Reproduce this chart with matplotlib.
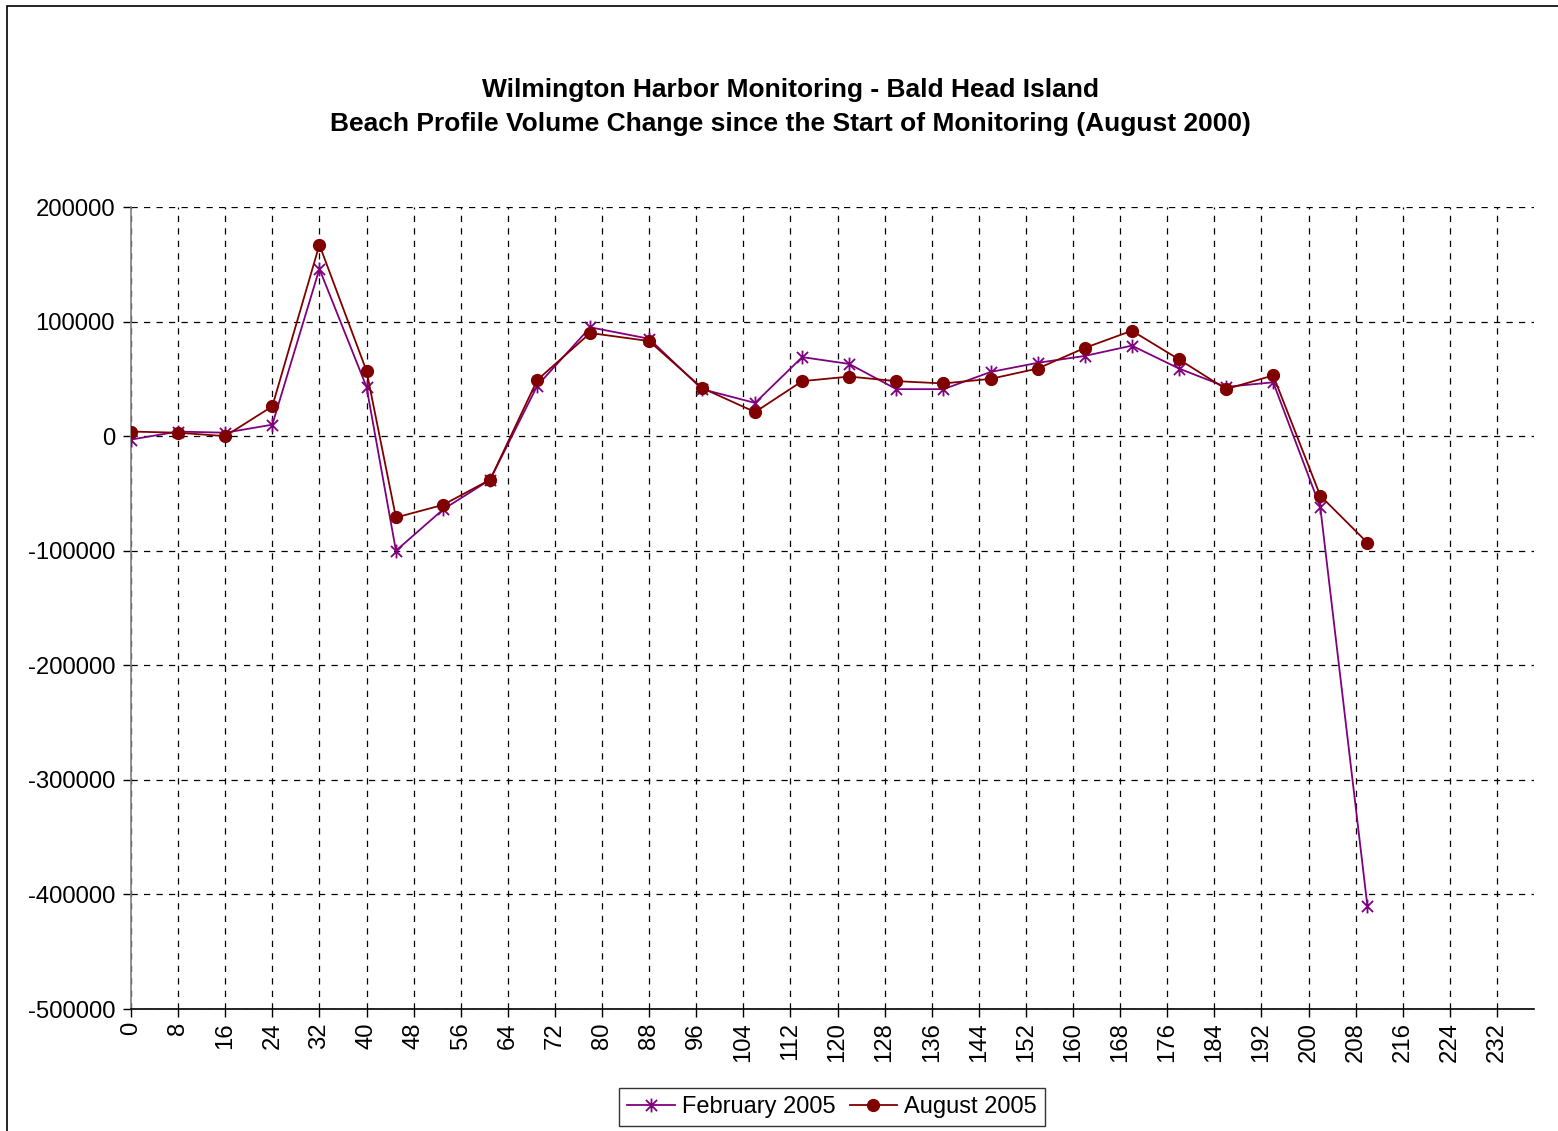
import numpy as np
import matplotlib
matplotlib.use('Agg')
import matplotlib.pyplot as plt
from matplotlib.path import Path
from matplotlib.patches import Rectangle

plt.rcParams['font.family'] = ['Liberation Sans', 'DejaVu Sans']
plt.rcParams['axes.unicode_minus'] = False

# station positions (profile numbers) and volume change
stations = [0, 8, 16, 24, 32, 40, 45, 53, 61, 69, 78, 88, 97, 106, 114,
            122, 130, 138, 146, 154, 162, 170, 178, 186, 194, 202, 210]
feb_2005 = [-3000, 4000, 3000, 10000, 146000, 43000, -100000, -64000, -38000,
            44000, 95000, 85000, 41000, 29000, 69000, 63000, 41000, 41000,
            56000, 64000, 70000, 79000, 59000, 43000, 47000, -62000, -410000]
aug_2005 = [4000, 3000, 0, 26000, 167000, 57000, -71000, -60000, -38000,
            49000, 90000, 83000, 42000, 21000, 48000, 52000, 48000, 46000,
            50000, 59000, 77000, 92000, 67000, 41000, 53000, -52000, -93000]

x_ticks = np.arange(0, 240, 8)
y_ticks = np.arange(-500000, 200001, 100000)

title = ('Wilmington Harbor Monitoring - Bald Head Island\n'
         'Beach Profile Volume Change since the Start of Monitoring (August 2000)')

# Excel style star marker: X with a vertical bar
star = Path([(-1, -1), (1, 1), (-1, 1), (1, -1), (0, -1.25), (0, 1.25)],
            [Path.MOVETO, Path.LINETO, Path.MOVETO, Path.LINETO,
             Path.MOVETO, Path.LINETO])

fig = plt.figure(figsize=(15.58, 11.31), dpi=100)
ax = fig.add_axes([131/1558, 1 - 1009/1131, (1534-131)/1558, (1009-207)/1131])

ax.plot(stations, feb_2005, color='#800080', lw=1.3, marker=star,
        markersize=10, markeredgewidth=1.3, markerfacecolor='none',
        label='February 2005', zorder=3)
ax.plot(stations, aug_2005, color='#800000', lw=1.3, marker='o',
        markersize=8.5, label='August 2005', zorder=4)

ax.set_xlim(0, 238.3)
ax.set_ylim(-500000, 200000)
ax.set_xticks(x_ticks)
ax.set_xticklabels([str(v) for v in x_ticks], rotation=90)
ax.set_yticks(y_ticks)
ax.set_yticklabels([str(v) for v in y_ticks])
ax.tick_params(axis='both', labelsize=17.2, direction='out', length=6,
               width=1, colors='black')
ax.tick_params(axis='y', pad=5.5)

ax.grid(True, color='black', linestyle=(0, (5, 5)), linewidth=0.9)
ax.set_axisbelow(True)
for side in ['top', 'right']:
    ax.spines[side].set_visible(False)
ax.spines['left'].set_color('#808080')
ax.spines['left'].set_linewidth(1.2)
ax.spines['bottom'].set_color('black')
ax.spines['bottom'].set_linewidth(1.2)

fig.text(790/1558, 1 - 107/1131, title, ha='center', va='center',
         fontsize=19, fontweight='bold', linespacing=1.5)

leg = fig.legend(loc='center', bbox_to_anchor=(832/1558, 1 - 1107/1131),
                 ncol=2, fontsize=17, frameon=True, fancybox=False,
                 handlelength=2.0, handletextpad=0.3, columnspacing=0.6,
                 borderpad=0.35)
leg.get_frame().set_edgecolor('black')
leg.get_frame().set_linewidth(1.0)

# outer chart border (clipped at right and bottom like the source)
fig.patches.append(Rectangle((7/1558, -0.05), 1.1, 1 - 6/1131 + 0.05,
                             transform=fig.transFigure, fill=False,
                             edgecolor='black', linewidth=1.2))

fig.savefig('out.png', dpi=100)
